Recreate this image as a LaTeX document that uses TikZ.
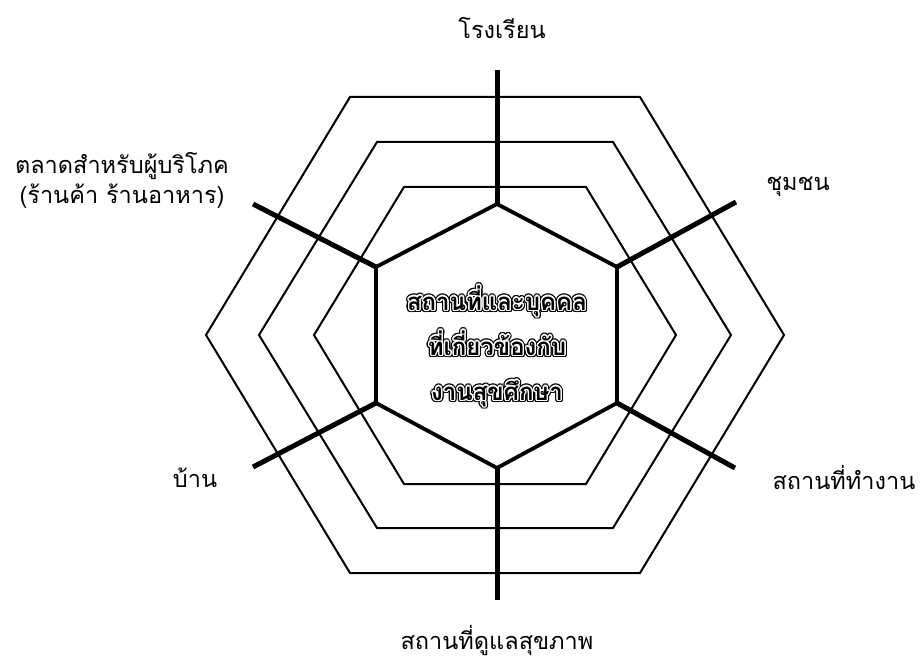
\documentclass[tikz,border=0pt]{standalone}
\usepackage{fontspec}
\newfontfamily\thai[Script=Thai]{Loma}
\usetikzlibrary{calc}
\begin{document}
\begin{tikzpicture}[x=1pt,y=-1pt,
  thinhex/.style={line width=2pt, line join=miter},
  thickhex/.style={line width=3.8pt, line join=miter},
  spoke/.style={line width=5pt},
  lbl/.style={font=\thai\fontsize{23.5}{30}\selectfont, inner sep=0pt, align=center},
  ctext/.style={font=\thai\bfseries\fontsize{24}{45}\selectfont, inner sep=0pt, align=center}]
\useasboundingbox (0,0) rectangle (921,668);
% concentric outer hexagons
\draw[thinhex] (350,97) -- (640,97) -- (784,335) -- (640,573) -- (350,573) -- (206,335) -- cycle;
\draw[thinhex] (377,142) -- (613,142) -- (731,335) -- (613,528) -- (377,528) -- (259,335) -- cycle;
\draw[thinhex] (404,187) -- (586,187) -- (676,335) -- (586,484) -- (404,484) -- (314,335) -- cycle;
% central hexagon vertices
\coordinate (vt) at (497,204);
\coordinate (vur) at (617,267);
\coordinate (vlr) at (617,403);
\coordinate (vb) at (497,468);
\coordinate (vll) at (376,403);
\coordinate (vul) at (376,267);
\coordinate (ctr) at (497,346);
% spoke ends
\coordinate (et) at (497,70);
\coordinate (eb) at (497,600);
\coordinate (eul) at (253,204);
\coordinate (eur) at (736,202);
\coordinate (ell) at (253,467);
\coordinate (elr) at (735,468);
\draw[thickhex] (vt) -- (vur) -- (vlr) -- (vb) -- (vll) -- (vul) -- cycle;
\draw[spoke] (vt) -- (et);
\draw[spoke] (vb) -- (eb);
\draw[spoke] (vul) -- (eul);
\draw[spoke] (vur) -- (eur);
\draw[spoke] (vll) -- (ell);
\draw[spoke] (vlr) -- (elr);
% centre text with outline effect
\newcommand\centretext{สถานที่และบุคคล\\ที่เกี่ยวข้องกับ\\งานสุขศึกษา}
\foreach \a in {0,22.5,...,337.5}{
  \node[ctext, text=black] at ($(ctr)+(\a:2.6)$) {\centretext};
}
\foreach \a in {0,22.5,...,337.5}{
  \node[ctext, text=white] at ($(ctr)+(\a:1.3)$) {\centretext};
}
\node[ctext] (centre) at (ctr) {\centretext};
% labels
\node[lbl] (school) at (502,28) {โรงเรียน};
\node[lbl] (market) at (122,180) {ตลาดสำหรับผู้บริโภค\\(ร้านค้า ร้านอาหาร)};
\node[lbl] (community) at (798,187) {ชุมชน};
\node[lbl] (home) at (195,478) {บ้าน};
\node[lbl] (work) at (844,477) {สถานที่ทำงาน};
\node[lbl] (health) at (497,640) {สถานที่ดูแลสุขภาพ};
\end{tikzpicture}
\end{document}
